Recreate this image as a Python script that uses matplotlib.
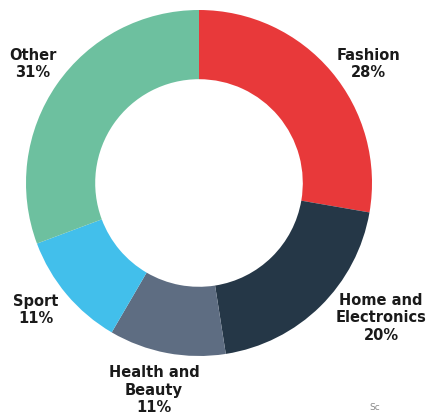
import matplotlib
matplotlib.use("Agg")
import matplotlib.pyplot as plt

categories = ["Fashion", "Home and\nElectronics", "Health and\nBeauty", "Sport", "Other"]
shares = [28, 20, 11, 11, 31]
colors = ["#E8393A", "#253747", "#5E6D82", "#42BFEB", "#6DC09F"]

W, H = 426, 420
fig = plt.figure(figsize=(W / 100, H / 100), dpi=100)
ax = fig.add_axes([0, 0, 1, 1])
ax.set_xlim(0, W)
ax.set_ylim(0, H)
ax.set_aspect("equal")
ax.axis("off")

cx, cy, r = 199, H - 183, 173
ax.pie(shares, colors=colors, startangle=90, counterclock=False,
       center=(cx, cy), radius=r,
       wedgeprops=dict(width=r * 0.4, linewidth=0))
ax.set_xlim(0, W)
ax.set_ylim(0, H)

label_pos = [(368, 64), (381, 318), (154, 390), (36, 310), (33, 64)]
for cat, s, (x, y) in zip(categories, shares, label_pos):
    ax.text(x, H - y, f"{cat}\n{s}%", ha="center", va="center",
            fontsize=10.5, fontweight="bold", color="#1a1a1a", linespacing=1.2)

ax.text(369, H - 408, "Sc", fontsize=6.5, color="#888888", ha="left", va="center")
ax.text(60, H + 4, "Spend per category", fontsize=13, fontweight="bold",
        color="#253747", ha="left", va="baseline")

fig.savefig("out.png", dpi=100)
